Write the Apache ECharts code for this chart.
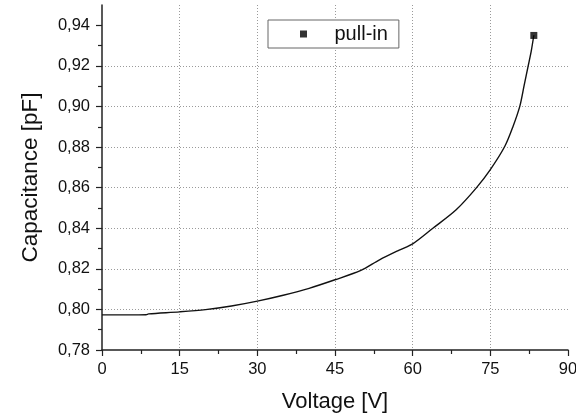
<!DOCTYPE html>
<html>
<head>
<meta charset="utf-8">
<script src="https://cdn.jsdelivr.net/npm/echarts@6/dist/echarts.min.js"></script>
<style>
html,body{margin:0;padding:0;background:#fff;}
#chart{width:576px;height:419px;}
</style>
</head>
<body>
<div id="chart"></div>
<script>
// values
var voltage = [0, 5, 8.5, 9, 15, 20, 25, 30, 35, 40, 45, 50, 53.6, 57.4, 60, 63.9, 68.4, 72.3, 75, 77.8, 79.4, 80.7, 81.5, 82.3, 82.9, 83.4]
var capacitance = [0.7973, 0.7973, 0.7974, 0.7978, 0.7988, 0.7999, 0.8017, 0.8041, 0.8070, 0.8104, 0.8146, 0.8192, 0.8244, 0.8292, 0.8323, 0.8400, 0.8491, 0.8599, 0.8689, 0.8804, 0.8903, 0.9002, 0.9100, 0.9199, 0.9273, 0.9351]
var pullIn = [[83.4, 0.935]]
var yTicks = [0.78, 0.80, 0.82, 0.84, 0.86, 0.88, 0.90, 0.92, 0.94]

var curve = []
for (var i = 0; i < voltage.length; i++) {
	curve.push([voltage[i], capacitance[i]])
}

var chart = echarts.init(document.getElementById("chart"), null, {renderer: 'canvas'})

var font = "'Liberation Sans', Arial, sans-serif"
var axisColor = '#222'
var gridLine = {
	show: true,
	showMinLine: false,
	showMaxLine: false,
	lineStyle: {color: '#9a9a9a', width: 1, type: [1, 2]}
}

var option = {
	animation: false,
	backgroundColor: '#fff',
	textStyle: {fontFamily: font},
	grid: {left: 102, right: 8, top: 5, bottom: 69, outerBoundsMode: 'none'},
	legend: {
		data: [{name: 'pull-in', icon: 'path://M0,0L1,0L1,1L0,1Z'}],
		left: 268,
		top: 20,
		orient: 'horizontal',
		itemWidth: 52,
		itemHeight: 7,
		symbolKeepAspect: true,
		padding: [4, 11, 4, 32],
		borderColor: '#666',
		borderWidth: 1,
		backgroundColor: '#fff',
		selectedMode: false,
		textStyle: {fontFamily: font, fontSize: 20, color: '#111'}
	},
	xAxis: {
		type: 'value',
		min: 0,
		max: 90,
		interval: 15,
		name: 'Voltage [V]',
		nameLocation: 'middle',
		nameGap: 41,
		nameTextStyle: {fontFamily: font, fontSize: 22, color: '#111'},
		axisLine: {show: true, onZero: false, lineStyle: {color: axisColor, width: 1.5}},
		axisTick: {show: true, inside: false, length: 6, lineStyle: {color: axisColor, width: 1.2}},
		minorTick: {show: true, splitNumber: 2, length: 4, lineStyle: {color: axisColor, width: 1.2}},
		axisLabel: {fontFamily: font, fontSize: 16.5, color: '#111', margin: 11},
		splitLine: gridLine
	},
	yAxis: {
		type: 'value',
		min: 0.78,
		max: 0.95,
		interval: 0.02,
		name: 'Capacitance [pF]',
		nameLocation: 'middle',
		nameGap: 60,
		nameTextStyle: {fontFamily: font, fontSize: 22.5, color: '#111'},
		axisLine: {show: true, onZero: false, lineStyle: {color: axisColor, width: 1.5}},
		axisTick: {show: true, inside: false, length: 6, customValues: yTicks, lineStyle: {color: axisColor, width: 1.2}},
		minorTick: {show: true, splitNumber: 2, length: 4, lineStyle: {color: axisColor, width: 1.2}},
		axisLabel: {
			fontFamily: font, fontSize: 16.5, color: '#111', margin: 12,
			showMaxLabel: false,
			formatter: function (v) {
				return v.toFixed(2).replace('.', ',')
			}
		},
		splitLine: gridLine
	},
	series: [
		{
			name: 'curve',
			type: 'line',
			data: curve,
			showSymbol: false,
			symbol: 'none',
			smooth: 0.3,
			lineStyle: {color: '#111', width: 1.4},
			z: 3
		},
		{
			name: 'pull-in',
			type: 'scatter',
			data: pullIn,
			symbol: 'rect',
			symbolSize: 7,
			itemStyle: {color: '#000'},
			z: 4
		}
	]
}

chart.setOption(option)
</script>
</body>
</html>
